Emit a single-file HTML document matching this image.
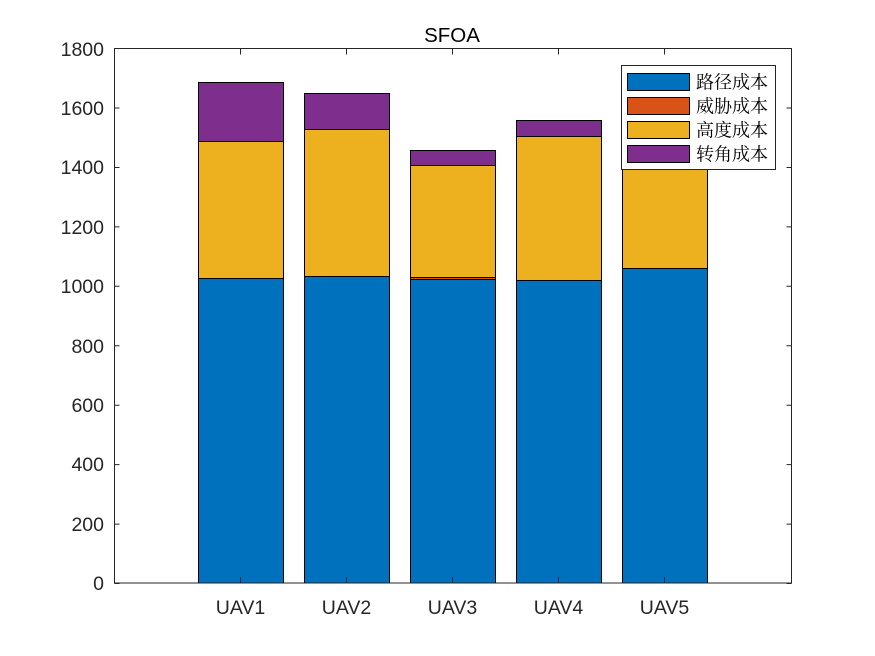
<!DOCTYPE html>
<html><head><meta charset="utf-8"><style>body{margin:0;background:#fff}svg{display:block}</style></head>
<body>
<svg width="875" height="656" xmlns="http://www.w3.org/2000/svg" font-family="Liberation Sans, sans-serif">
<rect width="875" height="656" fill="#fff"/>
<g stroke="#000" stroke-width="1">
<rect x="198.5" y="278.5" width="85" height="304.5" fill="#0072BD"/>
<rect x="198.5" y="141.5" width="85" height="137" fill="#EDB120"/>
<rect x="198.5" y="82.5" width="85" height="59" fill="#7E2F8E"/>
<rect x="304.5" y="276.5" width="85" height="306.5" fill="#0072BD"/>
<rect x="304.5" y="129.5" width="85" height="147" fill="#EDB120"/>
<rect x="304.5" y="93.5" width="85" height="36" fill="#7E2F8E"/>
<rect x="410.5" y="279.5" width="85" height="303.5" fill="#0072BD"/>
<rect x="410.5" y="277.5" width="85" height="2" fill="#D95319"/>
<rect x="410.5" y="165.5" width="85" height="112" fill="#EDB120"/>
<rect x="410.5" y="150.5" width="85" height="15" fill="#7E2F8E"/>
<rect x="516.5" y="280.5" width="85" height="302.5" fill="#0072BD"/>
<rect x="516.5" y="136.5" width="85" height="144" fill="#EDB120"/>
<rect x="516.5" y="120.5" width="85" height="16" fill="#7E2F8E"/>
<rect x="622.5" y="268.5" width="85" height="314.5" fill="#0072BD"/>
<rect x="622.5" y="160.5" width="85" height="108" fill="#EDB120"/>
</g>
<rect x="114.5" y="48.5" width="677" height="534.5" fill="none" stroke="#262626" stroke-width="1"/>
<g stroke="#262626" stroke-width="1">
<path d="M114.5 583.5h5M114.5 524.1h5M114.5 464.6h5M114.5 405.2h5M114.5 345.8h5M114.5 286.3h5M114.5 226.9h5M114.5 167.5h5M114.5 108h5M114.5 48.5h5"/>
<path d="M791.5 583.5h-5M791.5 524.1h-5M791.5 464.6h-5M791.5 405.2h-5M791.5 345.8h-5M791.5 286.3h-5M791.5 226.9h-5M791.5 167.5h-5M791.5 108h-5M791.5 48.5h-5"/>
<path d="M240.5 583v-6M346.5 583v-6M452.5 583v-6M558.5 583v-6M664.5 583v-6"/>
<path d="M240.5 48.5v6M346.5 48.5v6M452.5 48.5v6M558.5 48.5v6M664.5 48.5v6"/>
</g>
<g font-size="19.5" fill="#262626" text-anchor="end">
<text x="104" y="590">0</text><text x="104" y="531">200</text><text x="104" y="471">400</text>
<text x="104" y="412">600</text><text x="104" y="353">800</text><text x="104" y="293">1000</text>
<text x="104" y="234">1200</text><text x="104" y="174">1400</text><text x="104" y="115">1600</text>
<text x="104" y="56">1800</text>
</g>
<g font-size="19.5" fill="#262626" text-anchor="middle">
<text x="240.5" y="614">UAV1</text><text x="346.5" y="614">UAV2</text><text x="452.5" y="614">UAV3</text>
<text x="558.5" y="614">UAV4</text><text x="664.5" y="614">UAV5</text>
<text x="452" y="42" font-size="20.5" fill="#000">SFOA</text>
</g>
<rect x="621.5" y="65.5" width="154" height="104" fill="#fff" stroke="#262626"/>
<g stroke="#000">
<rect x="627.5" y="73.5" width="62" height="17" fill="#0072BD"/>
<rect x="627.5" y="97.5" width="62" height="17" fill="#D95319"/>
<rect x="627.5" y="121.5" width="62" height="17" fill="#EDB120"/>
<rect x="627.5" y="145.5" width="62" height="17" fill="#7E2F8E"/>
</g>
<g font-size="18" fill="#000" font-family="Noto Serif CJK SC, serif">
<text x="696" y="88.5">路径成本</text><text x="696" y="112.5">威胁成本</text>
<text x="696" y="136.5">高度成本</text><text x="696" y="160.5">转角成本</text>
</g>
</svg>
</body></html>
